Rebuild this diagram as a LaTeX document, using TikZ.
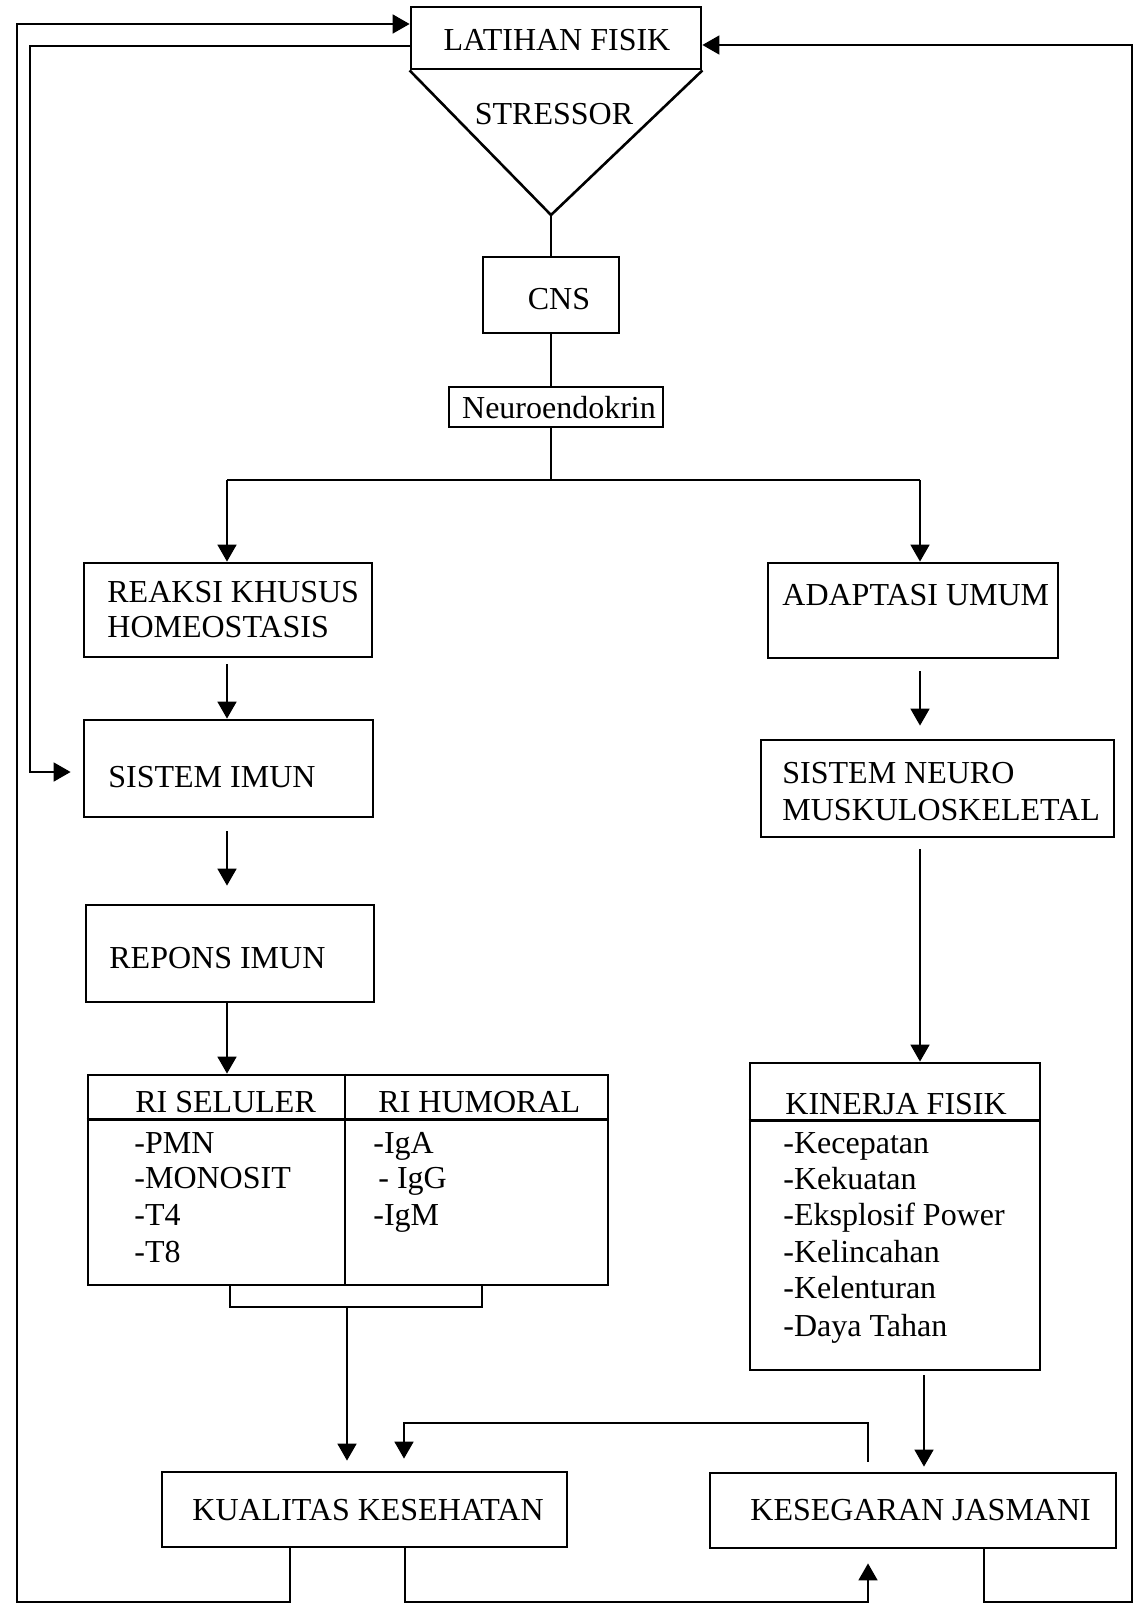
\documentclass[tikz,border=0pt]{standalone}
\usepackage{fontspec}
\setmainfont{Liberation Serif}
\usetikzlibrary{arrows.meta,fit,calc}
\tikzset{
  box/.style={draw, rectangle, line width=1.4pt, inner sep=0pt},
  rule/.style={line width=1.3pt},
  lbl/.style={inner sep=0pt, anchor=base west, font=\fontsize{16pt}{18pt}\selectfont},
  clbl/.style={inner sep=0pt, anchor=base, font=\fontsize{16pt}{18pt}\selectfont},
  link/.style={line width=0.9pt},
  arr/.style={link, -{Triangle[width=9.5pt,length=8.5pt]}},
}
\begin{document}
\begin{tikzpicture}[x=0.5pt,y=-0.5pt]
\useasboundingbox (0,0) rectangle (1136,1605);

% ---- top: exercise as stressor ----
\node[box, fit={(411,7) (701,69)}] (latihan) {};
\node[clbl] (tlatihan) at (557,51) {LATIHAN FISIK};
\coordinate (apex) at (551,215);
\draw[rule, line join=miter] (latihan.south west) -- (apex) -- (latihan.south east);
\node[clbl] (tstressor) at (554,125) {STRESSOR};

\node[box, fit={(483,257) (619,333)}] (cns) {};
\node[clbl] (tcns) at (559,309.5) {CNS};
\node[box, line width=1.2pt, fit={(449,387) (663,427)}] (neuro) {};
\node[clbl] (tneuro) at (559,418.5) {Neuroendokrin};

% ---- left column: immune branch ----
\node[box, fit={(84,563) (372,657)}] (reaksi) {};
\node[lbl] (treaksi1) at (107,602.5) {REAKSI KHUSUS};
\node[lbl] (treaksi2) at (107,637.5) {HOMEOSTASIS};
\node[box, fit={(84,720) (373,817)}] (imun) {};
\node[lbl] (timun) at (108,787.5) {SISTEM IMUN};
\node[box, fit={(86,905) (374,1002)}] (repons) {};
\node[lbl] (trepons) at (109,968.5) {REPONS IMUN};

\node[box, fit={(88,1075) (608,1285)}] (tabel) {};
\coordinate (divx) at (345,0);
\draw[rule] ($(tabel.north west)+(0,46)$) -- ($(tabel.north east)+(0,46)$);
\draw[link] (tabel.north -| divx) -- (tabel.south -| divx);
\node[lbl] (tsel) at (135,1112.5) {RI SELULER};
\node[lbl] (thum) at (378,1112.5) {RI HUMORAL};
\node[lbl] (ts1) at (134,1153.5) {-PMN};
\node[lbl] (ts2) at (134,1188.5) {-MONOSIT};
\node[lbl] (ts3) at (134,1225.5) {-T4};
\node[lbl] (ts4) at (134,1262.5) {-T8};
\node[lbl] (th1) at (373,1153.5) {-IgA};
\node[lbl] (th2) at (378,1188.5) {-\ IgG};
\node[lbl] (th3) at (373,1225.5) {-IgM};

% ---- right column: physical branch ----
\node[box, fit={(768,563) (1058,658)}] (adaptasi) {};
\node[lbl] (tadaptasi) at (782,605.5) {ADAPTASI UMUM};
\node[box, fit={(761,740) (1114,837)}] (neuromus) {};
\node[lbl] (tnm1) at (782,783.5) {SISTEM NEURO};
\node[lbl] (tnm2) at (782,820.5) {MUSKULOSKELETAL};
\node[box, fit={(750,1063) (1040,1370)}] (kinerja) {};
\draw[rule] ($(kinerja.north west)+(0,59)$) -- ($(kinerja.north east)+(0,59)$);
\node[lbl] (tkin) at (785,1114) {KINERJA FISIK};
\node[lbl] (tk1) at (783,1153.5) {-Kecepatan};
\node[lbl] (tk2) at (783,1189.5) {-Kekuatan};
\node[lbl] (tk3) at (783,1225.5) {-Eksplosif Power};
\node[lbl] (tk4) at (783,1262.5) {-Kelincahan};
\node[lbl] (tk5) at (783,1298.5) {-Kelenturan};
\node[lbl] (tk6) at (783,1336.5) {-Daya Tahan};

% ---- bottom outcomes ----
\node[box, fit={(162,1472) (567,1547)}] (kualitas) {};
\node[lbl] (tkual) at (192,1520.5) {KUALITAS KESEHATAN};
\node[box, fit={(710,1473) (1116,1548)}] (kesegaran) {};
\node[lbl] (tkes) at (750,1520.5) {KESEGARAN JASMANI};

% ---- central stem and split ----
\draw[link] (apex) -- (apex |- cns.north);
\draw[link] (cns.south -| apex) -- (neuro.north -| apex);
\coordinate (split) at (551,480);
\coordinate (splitL) at (227,480);
\coordinate (splitR) at (920,480);
\draw[link] (neuro.south -| apex) -- (split);
\draw[link] (splitL) -- (splitR);
\draw[arr] (splitL) -- (splitL |- reaksi.north);
\draw[arr] (splitR) -- (splitR |- adaptasi.north);

% ---- left chain ----
\draw[arr] ($(reaksi.south -| splitL)+(0,6)$) -- (splitL |- imun.north);
\draw[arr] ($(imun.south -| splitL)+(0,13)$) -- ($(repons.north -| splitL)+(0,-18)$);
\draw[arr] (repons.south -| splitL) -- (splitL |- tabel.north);
\coordinate (brL) at (230,1307);
\coordinate (brR) at (482,1307);
\coordinate (brM) at (347,1307);
\draw[link] (tabel.south -| brL) -- (brL) -- (brR) -- (tabel.south -| brR);
\draw[arr] (brM) -- ($(brM |- kualitas.north)+(0,-10)$);

% ---- right chain ----
\draw[arr] ($(adaptasi.south -| splitR)+(0,12)$) -- ($(neuromus.north -| splitR)+(0,-13)$);
\draw[arr] ($(neuromus.south -| splitR)+(0,11)$) -- (kinerja.north -| splitR);
\coordinate (kx) at (924,0);
\draw[arr] ($(kinerja.south -| kx)+(0,4)$) -- ($(kesegaran.north -| kx)+(0,-5)$);

% fitness feeds health
\coordinate (fbR) at (868,1423);
\coordinate (fbL) at (404,1423);
\draw[arr] ($(kesegaran.north -| fbR)+(0,-10)$) -- (fbR) -- (fbL) -- ($(fbL |- kualitas.north)+(0,-12)$);

% ---- outer feedback loops ----
\coordinate (xk1) at (290,1602);
\coordinate (xk2) at (405,1602);
\coordinate (xs1) at (868,1602);
\coordinate (xs2) at (984,1602);
\coordinate (cL) at (17,1602);
\coordinate (cLt) at (17,24);
\coordinate (cR) at (1132,1602);
\coordinate (cRt) at (1132,45);
\coordinate (iL) at (30,46);
\coordinate (iLb) at (30,772);

\draw[arr] (kualitas.south -| xk1) -- (xk1) -- (cL) -- (cLt) -- (latihan.west |- cLt);
\draw[arr] (latihan.west |- iL) -- (iL) -- (iLb) -- ($(imun.west |- iLb)+(-12,0)$);
\draw[arr] (kualitas.south -| xk2) -- (xk2) -- (xs1) -- ($(kesegaran.south -| xs1)+(0,14)$);
\draw[arr] (kesegaran.south -| xs2) -- (xs2) -- (cR) -- (cRt) -- (latihan.east |- cRt);
\end{tikzpicture}
\end{document}
